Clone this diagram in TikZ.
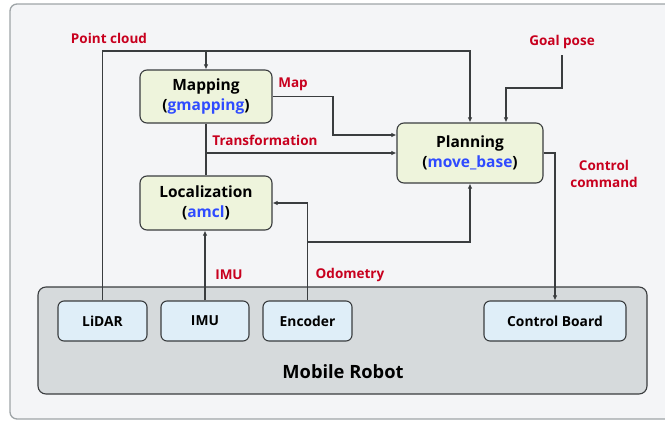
\documentclass[tikz,border=0pt]{standalone}
\usepackage{fontspec}
\setmainfont{Open Sans}[BoldFont={Open Sans Bold}]
\usetikzlibrary{arrows.meta,calc}
\definecolor{bgcol}{HTML}{F4F5F7}
\definecolor{framecol}{HTML}{9EA4A7}
\definecolor{robotcol}{HTML}{D6DADC}
\definecolor{proccol}{HTML}{EEF4DC}
\definecolor{sensecol}{HTML}{DFEEF8}
\definecolor{edgecol}{HTML}{3A3D3F}
\definecolor{labred}{HTML}{C8001E}
\definecolor{pkgblue}{HTML}{2F4BFF}
\tikzset{
  proc/.style={draw=edgecol, fill=proccol, line width=1.1pt, rounded corners=7pt,
    align=center, font=\bfseries\fontsize{15.5}{20}\selectfont, inner sep=0pt},
  sensor/.style={draw=edgecol, fill=sensecol, line width=1.1pt, rounded corners=6pt,
    minimum height=40pt, font=\bfseries\fontsize{13.8}{16}\selectfont, inner sep=0pt},
  lab/.style={text=labred, font=\bfseries\fontsize{13.5}{17}\selectfont, align=center, inner sep=0pt},
  conn/.style={draw=edgecol, line width=1.1pt},
  arr/.style={conn, -{Latex[length=5pt,width=4.5pt]}},
}
\newcommand{\pkg}[1]{(\textcolor{pkgblue}{#1})}
\begin{document}
\begin{tikzpicture}[x=1pt,y=-1pt]
\useasboundingbox (0,0) rectangle (665,421);
% outer panel
\draw[framecol, fill=bgcol, line width=1.3pt, rounded corners=7pt] (10,4) rectangle (672,419);
% robot chassis
\draw[edgecol, fill=robotcol, line width=1.1pt, rounded corners=8pt] (38,287) rectangle (647,394);
\node[font=\bfseries\fontsize{18.3}{22}\selectfont] (robot) at (343,372) {Mobile Robot};

% software nodes
\node[proc, minimum width=132pt, minimum height=53pt] (map) at (206,96.5) {Mapping\\\pkg{gmapping}};
\node[proc, minimum width=132pt, minimum height=54pt] (loc) at (206,203) {Localization\\\pkg{amcl}};
\node[proc, minimum width=146pt, minimum height=60pt] (plan) at (470,153) {Planning\\\pkg{move\_base}};

% hardware nodes
\node[sensor, minimum width=89pt] (lidar) at (102.5,321) {LiDAR};
\node[sensor, minimum width=88pt] (imu) at (205,321) {IMU};
\node[sensor, minimum width=89pt] (enc) at (307.5,321) {Encoder};
\node[sensor, minimum width=142pt] (ctrl) at (555,321) {Control Board};

% bend points
\coordinate (pcbus) at (lidar.north |- 0,51);
\coordinate (mapbend) at (333,135);
\coordinate (goalsrc) at (562,55);
\coordinate (goalbend) at (506,88);
\coordinate (odobus) at (enc.north |- 0,242);

% point cloud
\draw[arr] (lidar.north) -- (pcbus) -| (plan.north);
\draw[arr] (map.north |- pcbus) -- (map.north);
% map
\draw[arr] (map.east) -| (mapbend) -- (plan.west |- mapbend);
% transformation
\draw[conn] (map.south) -- (loc.north);
\draw[arr] (map.south |- plan.west) -- (plan.west);
% goal pose
\draw[arr] (goalsrc) |- (goalbend) -- (goalbend |- plan.north);
% control command
\draw[arr] (plan.east) -| (ctrl.north);
% imu
\draw[arr] (imu.north) -- (imu.north |- loc.south);
% odometry
\draw[arr] (enc.north) |- (loc.east);
\draw[arr] (odobus) -| (plan.south);

% labels
\node[lab] (lpc) at (109,38) {Point cloud};
\node[lab] (lmap) at (293,84) {Map};
\node[lab] (ltf) at (265,140) {Transformation};
\node[lab] (lgoal) at (562,42) {Goal pose};
\node[lab] (lcmd) at (604,174) {Control\\command};
\node[lab] (limu) at (229,275) {IMU};
\node[lab] (lodo) at (350,275) {Odometry};
\end{tikzpicture}
\end{document}
